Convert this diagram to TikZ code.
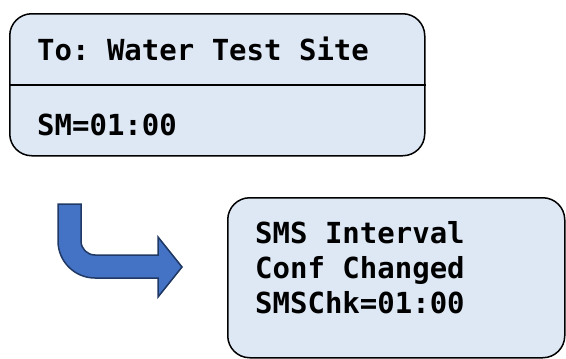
\documentclass[tikz,border=0pt]{standalone}
\usepackage{fontspec}
\setmonofont{DejaVu Sans Mono}
\usepackage{tikz}
\usetikzlibrary{positioning}
\definecolor{lcdfill}{HTML}{DEE8F5}
\definecolor{arrowfill}{HTML}{4472C4}
\definecolor{arrowline}{HTML}{203864}
\tikzset{
	lcd/.style={
		draw=black,
		fill=lcdfill,
		line width=1.5pt,
		rounded corners=22pt,
		inner sep=0pt,
		anchor=north west,
	},
	lcdtext/.style={
		inner sep=0pt,
		anchor=base west,
		font={\fontsize{29}{35}\selectfont\ttfamily\bfseries},
	},
	turnarrow/.style={
		draw=arrowline,
		fill=arrowfill,
		line width=1.5pt,
		line join=miter,
	},
}

\begin{document}
\begin{tikzpicture}[x=1pt,y=-1pt]
\useasboundingbox (0,0) rectangle (566,359);

% display before
\node(dest)[lcd, minimum width=415pt, minimum height=142pt] at (9,13) {};
\coordinate(divy) at (0,85);
\draw[line width=1.5pt] (dest.west |- divy) -- (dest.east |- divy);
\node(to)[lcdtext] at (37,60) {To: Water Test Site};
\node(sm)[lcdtext] at (37,135) {SM=01:00};

% bent arrow
\draw[turnarrow] (58,204) -- (81,204) -- (81,241)
	.. controls (81,248.7) and (87.3,255) .. (95,255)
	-- (158,255) -- (158,237) -- (182,267) -- (158,297) -- (158,278)
	-- (95,278)
	.. controls (74.6,278) and (58,261.4) .. (58,241)
	-- cycle;

% display after
\node(conf)[lcd, minimum width=337pt, minimum height=160pt] at (227,197) {};
\node(line1)[lcdtext] at (255,243) {SMS Interval};
\node(line2)[lcdtext] at (255,278) {Conf Changed};
\node(line3)[lcdtext] at (255,313) {SMSChk=01:00};

\end{tikzpicture}
\end{document}
